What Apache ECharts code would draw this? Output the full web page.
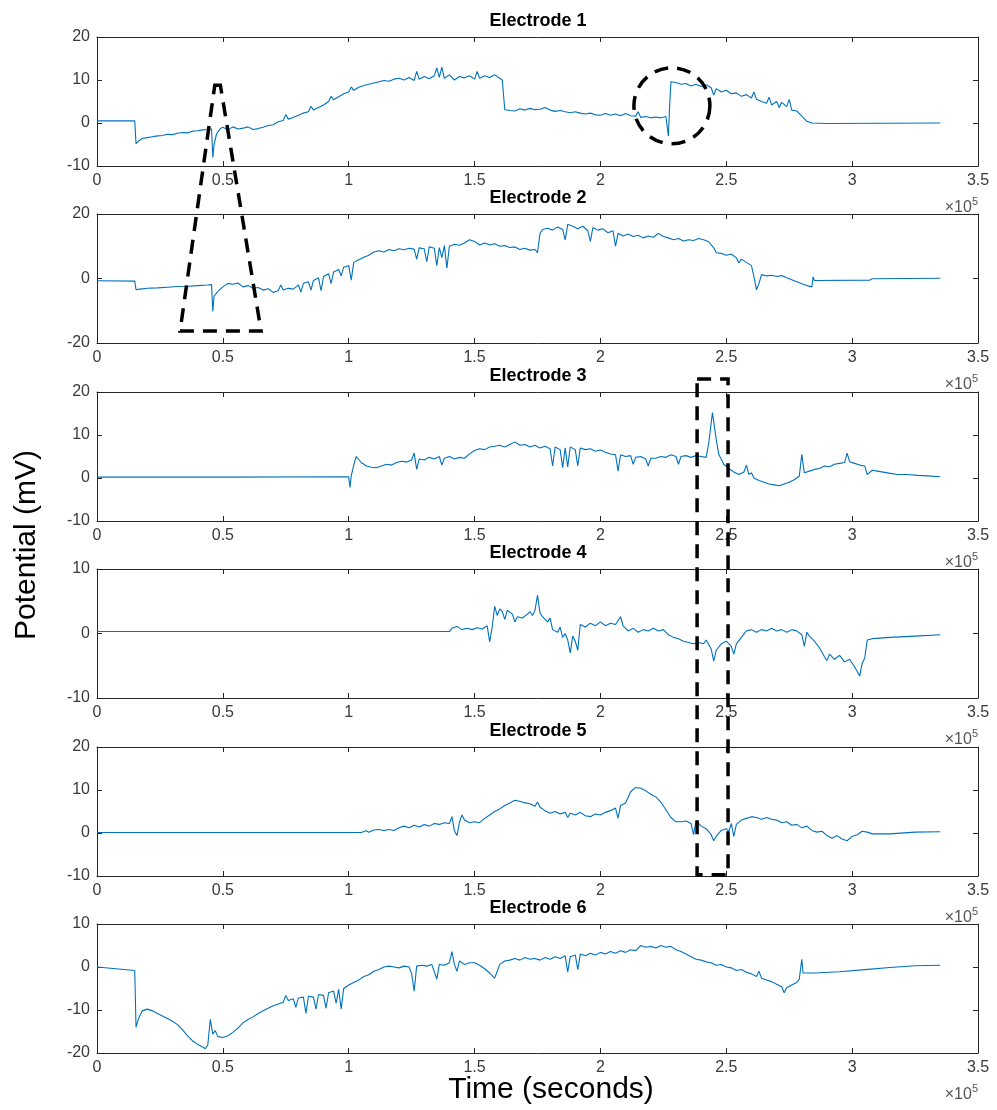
<!DOCTYPE html>
<html>
  <head>
    <meta charset="utf-8" />
    <title>Electrodes</title>
    <script src="https://cdn.jsdelivr.net/npm/echarts@6/dist/echarts.min.js"></script>
  </head>
  <body style="margin:0">
    <div id="main" style="width: 997px;height:1110px; background-color: white"></div>
    <script type="text/javascript">
      // time axis is in units of 1e5 seconds, values in mV
      var e1 = [[0,0.5],[0.15,0.5],[0.155,-4.8],[0.165,-4.2],[0.18,-3.6],[0.2,-3.4],[0.22,-3.2],[0.24,-3.0],[0.26,-2.9],[0.28,-2.6],[0.30,-2.7],[0.32,-2.4],[0.34,-2.2],[0.36,-2.3],[0.38,-1.9],[0.40,-1.8],[0.42,-1.6],[0.44,-1.5],[0.455,-1.4],[0.46,-8.0],[0.465,-5],[0.475,-2.5],[0.49,-1.3],[0.5,-1.0],[0.52,-1.6],[0.54,-0.9],[0.56,-1.4],[0.58,-1.2],[0.6,-0.9],[0.62,-1.5],[0.64,-1.3],[0.66,-1.0],[0.68,-0.6],[0.70,-0.4],[0.72,0.3],[0.74,0.6],[0.75,2.0],[0.76,0.9],[0.78,1.3],[0.80,1.8],[0.82,2.3],[0.84,2.6],[0.85,3.9],[0.86,3.0],[0.88,3.6],[0.90,4.2],[0.92,5.0],[0.93,6.2],[0.94,5.4],[0.96,6.1],[0.98,6.8],[1.00,7.2],[1.01,8.4],[1.02,7.6],[1.04,8.3],[1.06,8.7],[1.08,9.0],[1.10,9.3],[1.12,9.6],[1.14,9.9],[1.16,9.7],[1.18,10.2],[1.20,10.4],[1.22,10.0],[1.24,10.6],[1.26,9.9],[1.27,12.0],[1.28,10.2],[1.30,10.8],[1.32,10.3],[1.34,11.0],[1.35,12.8],[1.36,10.6],[1.37,13.0],[1.38,10.4],[1.40,11.2],[1.42,10.0],[1.44,10.8],[1.46,10.5],[1.48,11.0],[1.50,10.2],[1.51,12.0],[1.52,10.4],[1.54,11.0],[1.56,10.6],[1.58,11.2],[1.60,10.4],[1.61,10.0],[1.62,3.1],[1.64,2.9],[1.66,2.8],[1.68,3.3],[1.70,3.0],[1.72,3.4],[1.74,3.1],[1.76,3.2],[1.78,3.6],[1.80,3.0],[1.82,2.7],[1.84,2.9],[1.86,2.6],[1.88,2.4],[1.90,2.6],[1.92,2.3],[1.94,2.1],[1.96,2.3],[1.98,1.9],[2.00,1.8],[2.02,2.2],[2.04,1.8],[2.06,2.1],[2.08,1.7],[2.10,2.2],[2.12,1.7],[2.14,1.6],[2.15,2.6],[2.16,1.3],[2.18,1.5],[2.20,1.2],[2.22,1.4],[2.24,1.2],[2.26,1.5],[2.27,-3.0],[2.275,4],[2.28,9.6],[2.30,9.4],[2.32,9.0],[2.34,9.2],[2.36,8.6],[2.38,9.0],[2.40,8.5],[2.42,8.9],[2.44,8.2],[2.45,6.5],[2.46,8.0],[2.48,7.2],[2.50,7.6],[2.52,6.8],[2.54,7.0],[2.56,6.2],[2.58,6.6],[2.60,5.8],[2.61,7.2],[2.62,5.5],[2.64,5.0],[2.66,4.6],[2.67,6.0],[2.68,4.2],[2.70,5.0],[2.71,3.6],[2.72,4.8],[2.74,3.8],[2.75,5.5],[2.76,3.0],[2.78,2.8],[2.80,1.6],[2.82,0.4],[2.84,0.0],[2.9,-0.1],[3.35,0.0]];
      var e2 = [[0,-0.7],[0.15,-0.8],[0.155,-3.5],[0.17,-3.3],[0.2,-3.0],[0.24,-2.9],[0.28,-2.7],[0.32,-2.5],[0.36,-2.4],[0.40,-2.2],[0.44,-2.0],[0.455,-1.9],[0.46,-10.2],[0.465,-5.5],[0.48,-4.0],[0.50,-2.6],[0.52,-1.5],[0.54,-1.8],[0.56,-1.4],[0.58,-2.6],[0.60,-2.2],[0.62,-3.0],[0.64,-2.8],[0.66,-3.6],[0.68,-3.2],[0.70,-4.3],[0.72,-3.8],[0.73,-2.0],[0.74,-3.6],[0.76,-3.0],[0.78,-3.3],[0.80,-2.0],[0.81,-4.2],[0.82,-1.5],[0.84,-1.0],[0.85,-3.6],[0.86,-0.6],[0.88,0.2],[0.89,-3.8],[0.90,0.6],[0.92,1.5],[0.93,-1.6],[0.94,2.0],[0.96,2.8],[0.97,0.8],[0.98,3.5],[1.00,4.0],[1.01,-0.5],[1.02,5.0],[1.04,5.8],[1.06,6.6],[1.08,7.2],[1.10,8.2],[1.12,8.6],[1.14,8.2],[1.16,9.0],[1.18,8.6],[1.20,9.2],[1.22,8.9],[1.24,9.4],[1.26,9.1],[1.27,6.0],[1.28,9.5],[1.30,9.2],[1.31,5.2],[1.32,9.8],[1.34,9.4],[1.35,4.0],[1.36,9.6],[1.37,6.5],[1.38,10.2],[1.39,3.2],[1.40,10.0],[1.42,10.6],[1.44,10.3],[1.46,11.0],[1.48,12.0],[1.50,11.5],[1.52,10.4],[1.54,11.0],[1.56,10.4],[1.58,10.8],[1.60,10.0],[1.62,10.2],[1.64,9.6],[1.66,9.8],[1.68,9.0],[1.70,9.4],[1.72,8.8],[1.74,9.0],[1.75,8.0],[1.76,14.0],[1.77,15.2],[1.79,15.6],[1.81,15.0],[1.83,16.0],[1.85,15.2],[1.86,12.0],[1.87,16.8],[1.89,16.2],[1.91,15.4],[1.93,16.2],[1.95,14.8],[1.96,11.5],[1.97,15.8],[1.99,15.0],[2.01,15.4],[2.03,14.2],[2.05,14.8],[2.06,10.0],[2.07,14.0],[2.09,13.2],[2.11,13.8],[2.13,13.0],[2.15,13.4],[2.17,12.6],[2.19,13.2],[2.21,12.8],[2.23,14.0],[2.25,13.0],[2.27,12.6],[2.29,12.0],[2.31,12.4],[2.33,11.6],[2.35,12.0],[2.37,11.8],[2.39,12.4],[2.41,12.0],[2.43,11.4],[2.45,9.5],[2.46,8.0],[2.48,7.8],[2.50,7.2],[2.52,7.6],[2.54,6.4],[2.55,4.8],[2.56,6.0],[2.58,5.0],[2.60,4.0],[2.61,0.5],[2.62,-3.5],[2.63,-1.5],[2.64,1.2],[2.66,0.8],[2.68,1.0],[2.70,0.6],[2.72,0.9],[2.74,0.2],[2.76,-0.4],[2.78,-1.0],[2.80,-1.6],[2.82,-2.2],[2.84,-2.6],[2.845,0.5],[2.85,-0.6],[3.07,-0.5],[3.08,-0.1],[3.35,0.1]];
      var e3 = [[0,0.2],[0.5,0.2],[1.0,0.3],[1.005,-2.2],[1.01,0.5],[1.02,3.0],[1.03,5.0],[1.05,3.6],[1.07,2.8],[1.09,2.5],[1.11,2.4],[1.13,2.8],[1.15,3.2],[1.17,3.0],[1.19,3.6],[1.21,3.9],[1.23,3.7],[1.25,4.2],[1.26,5.8],[1.27,2.0],[1.28,4.4],[1.30,4.2],[1.32,4.8],[1.34,4.4],[1.36,5.0],[1.37,3.0],[1.38,4.6],[1.40,5.0],[1.42,4.4],[1.44,4.8],[1.46,4.6],[1.48,5.6],[1.50,6.4],[1.52,6.8],[1.54,6.6],[1.56,7.2],[1.58,7.4],[1.60,7.6],[1.62,7.2],[1.64,7.8],[1.66,8.4],[1.68,7.6],[1.70,7.8],[1.72,7.2],[1.74,7.6],[1.76,7.0],[1.78,7.4],[1.80,6.8],[1.81,2.8],[1.82,7.2],[1.84,6.6],[1.85,2.4],[1.86,7.0],[1.87,2.6],[1.88,7.2],[1.90,6.6],[1.91,2.8],[1.92,7.0],[1.94,6.6],[1.96,6.8],[1.98,6.2],[2.00,6.5],[2.02,6.0],[2.04,5.6],[2.06,5.4],[2.07,1.6],[2.08,5.4],[2.10,5.0],[2.12,5.2],[2.13,3.2],[2.14,4.8],[2.16,5.0],[2.18,4.4],[2.19,2.8],[2.20,4.6],[2.22,4.6],[2.24,5.0],[2.26,4.8],[2.28,5.4],[2.30,5.0],[2.31,3.2],[2.32,5.0],[2.34,5.2],[2.36,4.8],[2.38,5.2],[2.40,5.0],[2.42,4.8],[2.43,8.0],[2.445,15.2],[2.46,9.0],[2.47,5.5],[2.49,3.2],[2.51,2.2],[2.53,1.4],[2.55,0.8],[2.57,1.4],[2.58,3.0],[2.59,0.8],[2.60,1.2],[2.61,0.0],[2.63,-0.6],[2.65,-1.0],[2.67,-1.4],[2.69,-1.6],[2.71,-1.8],[2.73,-1.4],[2.75,-1.0],[2.77,-0.4],[2.79,0.4],[2.80,5.5],[2.81,1.2],[2.83,1.6],[2.85,2.0],[2.87,2.2],[2.89,2.8],[2.91,2.6],[2.93,3.2],[2.95,3.4],[2.97,3.6],[2.98,5.8],[2.99,3.8],[3.01,3.4],[3.03,3.0],[3.05,2.8],[3.06,0.8],[3.08,1.8],[3.10,1.6],[3.14,1.2],[3.18,0.8],[3.22,0.8],[3.26,0.6],[3.30,0.5],[3.35,0.3]];
      var e4 = [[0,0.3],[0.5,0.3],[1.0,0.3],[1.40,0.3],[1.41,0.8],[1.43,1.1],[1.45,0.6],[1.47,0.8],[1.49,0.6],[1.51,0.9],[1.53,0.7],[1.55,1.2],[1.56,-1.3],[1.57,1.0],[1.58,4.2],[1.59,2.8],[1.60,3.8],[1.61,3.4],[1.62,2.2],[1.63,3.6],[1.65,3.0],[1.66,1.8],[1.67,2.6],[1.69,2.4],[1.71,3.0],[1.72,3.4],[1.73,2.8],[1.74,3.6],[1.75,5.9],[1.76,3.2],[1.77,2.6],[1.79,1.8],[1.80,2.4],[1.81,0.6],[1.83,0.2],[1.84,1.0],[1.85,-0.6],[1.86,0.0],[1.87,-1.0],[1.88,-3.0],[1.89,-0.4],[1.90,-1.2],[1.91,-2.6],[1.92,1.4],[1.94,1.0],[1.96,1.6],[1.98,1.2],[2.00,1.8],[2.02,1.2],[2.04,1.6],[2.06,1.4],[2.08,2.6],[2.09,1.2],[2.11,0.4],[2.13,0.8],[2.15,0.2],[2.17,0.6],[2.19,0.4],[2.21,0.8],[2.23,0.4],[2.25,0.6],[2.27,-0.2],[2.29,-0.6],[2.31,-0.8],[2.33,-1.2],[2.35,-1.4],[2.37,-1.6],[2.39,-1.4],[2.41,-1.6],[2.42,-1.0],[2.44,-2.4],[2.45,-4.3],[2.46,-2.6],[2.48,-1.6],[2.50,-1.2],[2.52,-2.0],[2.53,-3.2],[2.54,-1.6],[2.56,-0.6],[2.58,0.4],[2.60,0.6],[2.62,0.2],[2.64,0.6],[2.66,0.4],[2.68,0.8],[2.70,0.4],[2.72,0.6],[2.74,0.2],[2.76,0.6],[2.78,0.4],[2.80,-0.2],[2.81,-2.0],[2.82,0.2],[2.83,-0.4],[2.85,-1.2],[2.87,-2.2],[2.89,-3.6],[2.90,-4.2],[2.91,-3.2],[2.93,-4.0],[2.95,-3.4],[2.97,-4.4],[2.99,-4.0],[3.01,-5.2],[3.03,-6.6],[3.04,-4.6],[3.05,-3.8],[3.06,-1.0],[3.08,-0.8],[3.15,-0.6],[3.25,-0.4],[3.35,-0.2]];
      var e5 = [[0,0.1],[0.5,0.1],[1.05,0.1],[1.07,0.5],[1.08,0.2],[1.10,0.7],[1.12,0.8],[1.14,0.6],[1.16,0.8],[1.18,0.6],[1.20,1.2],[1.22,1.6],[1.24,1.2],[1.26,1.8],[1.28,1.4],[1.30,2.0],[1.32,1.6],[1.34,2.2],[1.36,2.0],[1.38,2.4],[1.40,2.2],[1.41,3.8],[1.42,0.5],[1.43,-0.6],[1.44,2.5],[1.45,4.2],[1.46,3.0],[1.48,2.4],[1.50,2.6],[1.52,2.4],[1.54,3.4],[1.56,4.2],[1.58,5.0],[1.60,5.6],[1.62,6.4],[1.64,7.0],[1.66,7.6],[1.68,7.4],[1.70,7.0],[1.72,6.8],[1.74,6.2],[1.75,7.2],[1.76,6.0],[1.78,5.2],[1.80,4.6],[1.82,5.0],[1.84,4.4],[1.86,4.8],[1.87,3.6],[1.88,4.6],[1.90,4.2],[1.92,4.8],[1.94,4.0],[1.96,3.8],[1.98,4.4],[2.00,4.2],[2.02,4.8],[2.04,5.2],[2.06,5.8],[2.07,3.4],[2.08,6.4],[2.10,7.0],[2.12,9.6],[2.14,10.6],[2.16,10.4],[2.18,9.8],[2.20,9.0],[2.22,8.4],[2.24,7.2],[2.26,5.4],[2.28,3.6],[2.30,2.6],[2.32,2.6],[2.34,2.8],[2.36,2.2],[2.37,-0.4],[2.38,2.8],[2.40,1.6],[2.42,1.0],[2.44,-0.4],[2.45,-1.8],[2.46,-0.8],[2.48,0.6],[2.50,1.0],[2.51,0.4],[2.52,2.2],[2.53,-0.8],[2.54,2.0],[2.56,3.0],[2.58,3.4],[2.60,3.8],[2.62,3.6],[2.64,3.2],[2.66,3.6],[2.68,3.2],[2.70,3.0],[2.72,2.4],[2.74,2.6],[2.76,1.8],[2.78,2.0],[2.80,1.2],[2.82,1.6],[2.84,0.6],[2.86,0.2],[2.88,0.4],[2.90,-0.6],[2.92,-1.2],[2.94,-0.6],[2.96,-1.4],[2.98,-1.8],[3.00,-0.8],[3.02,-0.4],[3.04,0.4],[3.06,0.2],[3.08,-0.2],[3.15,-0.2],[3.25,0.2],[3.35,0.3]];
      var e6 = [[0,0.0],[0.15,-0.8],[0.155,-14.0],[0.165,-12.0],[0.18,-10.2],[0.20,-9.8],[0.22,-10.2],[0.24,-10.8],[0.26,-11.4],[0.28,-12.0],[0.30,-12.6],[0.32,-13.4],[0.34,-14.6],[0.36,-16.0],[0.38,-17.2],[0.40,-18.0],[0.42,-18.6],[0.43,-19.0],[0.44,-18.2],[0.45,-12.2],[0.46,-15.6],[0.47,-14.8],[0.48,-16.2],[0.50,-16.4],[0.52,-16.0],[0.54,-15.2],[0.56,-14.2],[0.58,-13.0],[0.60,-12.2],[0.62,-11.6],[0.64,-10.8],[0.66,-10.2],[0.68,-9.6],[0.70,-9.0],[0.72,-8.6],[0.74,-8.2],[0.75,-6.6],[0.76,-7.8],[0.78,-7.4],[0.79,-9.4],[0.80,-7.2],[0.82,-7.0],[0.83,-10.8],[0.84,-6.8],[0.86,-7.0],[0.87,-9.8],[0.88,-6.4],[0.90,-6.6],[0.91,-9.6],[0.92,-6.0],[0.94,-5.6],[0.95,-8.4],[0.96,-5.2],[0.97,-9.8],[0.98,-5.0],[1.00,-4.2],[1.02,-3.6],[1.04,-3.0],[1.06,-2.2],[1.08,-1.8],[1.10,-1.0],[1.12,-0.6],[1.14,0.0],[1.16,0.2],[1.18,0.0],[1.20,-0.2],[1.22,0.2],[1.24,0.0],[1.25,-1.6],[1.26,-5.6],[1.27,0.2],[1.29,0.4],[1.31,0.2],[1.33,0.6],[1.35,-2.8],[1.36,0.6],[1.38,0.4],[1.40,1.0],[1.41,3.6],[1.42,0.6],[1.43,-1.0],[1.44,1.4],[1.46,0.6],[1.48,1.0],[1.50,1.0],[1.52,0.4],[1.54,-0.4],[1.56,-1.4],[1.58,-2.6],[1.59,-1.0],[1.60,0.6],[1.62,1.4],[1.64,1.6],[1.66,2.0],[1.68,1.6],[1.70,2.2],[1.72,1.8],[1.74,2.0],[1.76,1.6],[1.78,2.2],[1.80,1.8],[1.82,2.4],[1.84,2.0],[1.86,2.6],[1.87,-1.2],[1.88,2.4],[1.90,2.8],[1.91,-0.6],[1.92,3.0],[1.94,2.6],[1.96,3.2],[1.98,2.8],[2.00,3.4],[2.02,3.0],[2.04,3.6],[2.06,3.2],[2.08,3.8],[2.10,3.4],[2.12,4.0],[2.14,3.8],[2.16,5.0],[2.18,4.6],[2.20,4.8],[2.22,4.4],[2.24,5.0],[2.26,4.6],[2.28,4.8],[2.30,4.0],[2.32,3.6],[2.34,3.0],[2.36,2.4],[2.38,1.8],[2.40,1.6],[2.42,1.2],[2.44,1.0],[2.46,0.4],[2.48,0.6],[2.50,0.0],[2.52,-0.2],[2.54,-0.8],[2.56,-0.6],[2.58,-1.2],[2.60,-1.6],[2.62,-2.2],[2.63,-1.0],[2.64,-2.6],[2.66,-3.0],[2.68,-3.4],[2.70,-4.0],[2.72,-4.6],[2.73,-6.0],[2.74,-4.8],[2.76,-4.2],[2.78,-3.6],[2.79,-2.8],[2.80,1.8],[2.805,-1.4],[2.85,-1.4],[2.95,-1.1],[3.05,-0.6],[3.15,-0.1],[3.25,0.3],[3.35,0.4]];

      var electrodes = [e1, e2, e3, e4, e5, e6];
      var titles = ['Electrode 1', 'Electrode 2', 'Electrode 3', 'Electrode 4', 'Electrode 5', 'Electrode 6'];
      var yMins = [-10, -20, -10, -10, -10, -20];
      var yMaxs = [20, 20, 20, 10, 20, 10];
      var yIntervals = [10, 20, 10, 10, 10, 10];

      var myChart = echarts.init(document.getElementById('main'));

      var plotLeft = 97, plotWidth = 881, plotHeight = 129;
      var plotTops = [37, 214, 392, 569, 747, 924];
      var axisColor = '#262626';
      var labelColor = '#3a3a3a';
      var font = 'Liberation Sans, Arial, Helvetica, sans-serif';

      var grids = [], xAxes = [], yAxes = [], series = [];
      for (var i = 0; i < 6; i++) {
        grids.push({ left: plotLeft, top: plotTops[i], width: plotWidth, height: plotHeight });
        // bottom + top x axis (MATLAB box)
        xAxes.push({
          type: 'value', gridIndex: i, min: 0, max: 3.5, interval: 0.5, position: 'bottom',
          axisLine: { show: true, onZero: false, lineStyle: { color: axisColor, width: 1 } },
          axisTick: { show: true, inside: true, length: 5, lineStyle: { color: axisColor } },
          axisLabel: { color: labelColor, fontSize: 16, fontFamily: font, margin: 7 },
          splitLine: { show: false }
        });
        xAxes.push({
          type: 'value', gridIndex: i, min: 0, max: 3.5, interval: 0.5, position: 'top',
          axisLine: { show: true, onZero: false, lineStyle: { color: axisColor, width: 1 } },
          axisTick: { show: true, inside: true, length: 5, lineStyle: { color: axisColor } },
          axisLabel: { show: false },
          splitLine: { show: false }
        });
        yAxes.push({
          type: 'value', gridIndex: i, min: yMins[i], max: yMaxs[i], interval: yIntervals[i], position: 'left',
          axisLine: { show: true, onZero: false, lineStyle: { color: axisColor, width: 1 } },
          axisTick: { show: true, inside: true, length: 5, lineStyle: { color: axisColor } },
          axisLabel: { color: labelColor, fontSize: 16, fontFamily: font, margin: 7 },
          splitLine: { show: false }
        });
        yAxes.push({
          type: 'value', gridIndex: i, min: yMins[i], max: yMaxs[i], interval: yIntervals[i], position: 'right',
          axisLine: { show: true, onZero: false, lineStyle: { color: axisColor, width: 1 } },
          axisTick: { show: true, inside: true, length: 5, lineStyle: { color: axisColor } },
          axisLabel: { show: false },
          splitLine: { show: false }
        });
        series.push({
          name: titles[i],
          type: 'line',
          xAxisIndex: 2 * i,
          yAxisIndex: 2 * i,
          data: electrodes[i],
          showSymbol: false,
          symbol: 'none',
          lineStyle: { color: '#0072BD', width: 1.1 },
          animation: false
        });
      }

      myChart.setOption({
        animation: false,
        grid: grids,
        xAxis: xAxes,
        yAxis: yAxes,
        series: series
      });

      // helper to map a data point of subplot g to pixels
      function px(g, x, y) {
        return myChart.convertToPixel({ xAxisIndex: 2 * g, yAxisIndex: 2 * g }, [x, y]);
      }

      var graphics = [];
      var dash = { stroke: '#000', lineWidth: 3.5, lineDash: [14, 9], fill: null };
      for (var j = 0; j < 6; j++) {
        graphics.push({
          type: 'text', x: 538, y: plotTops[j] - 16,
          style: { text: titles[j], fontSize: 18, fontWeight: 'bold', fontFamily: font, fill: '#000', align: 'center', verticalAlign: 'middle' }
        });
        graphics.push({
          type: 'text', x: 978, y: plotTops[j] + plotHeight + 42,
          style: {
            text: '\u00d710{s|5}', fontSize: 16, fontFamily: font, fill: '#555', align: 'right', verticalAlign: 'middle',
            rich: { s: { fontSize: 11, fontFamily: font, fill: '#555', padding: [0, 0, 12, 0] } }
          }
        });
      }
      graphics.push({
        type: 'text', x: 551, y: 1090,
        style: { text: 'Time (seconds)', fontSize: 30, fontFamily: font, fill: '#000', align: 'center', verticalAlign: 'middle' }
      });
      graphics.push({
        type: 'text', x: 27, y: 545, rotation: Math.PI / 2,
        style: { text: 'Potential (mV)', fontSize: 30, fontFamily: font, fill: '#000', align: 'center', verticalAlign: 'middle' }
      });

      // dashed annotation shapes
      var t1 = px(0, 0.468, 8.8), t2 = px(0, 0.49, 8.8), t3 = px(1, 0.652, -16.3), t4 = px(1, 0.33, -16.3);
      graphics.push({ type: 'polygon', shape: { points: [t1, t2, t3, t4] }, style: dash, z: 100 });
      var c = px(0, 2.284, 4.0);
      graphics.push({ type: 'circle', shape: { cx: c[0], cy: c[1], r: 38 }, style: dash, z: 100 });
      var r1 = px(2, 2.384, 23.0), r2 = px(4, 2.507, -9.7);
      graphics.push({ type: 'rect', shape: { x: r1[0], y: r1[1], width: r2[0] - r1[0], height: r2[1] - r1[1] }, style: dash, z: 100 });

      myChart.setOption({ graphic: graphics });
    </script>
  </body>
</html>
